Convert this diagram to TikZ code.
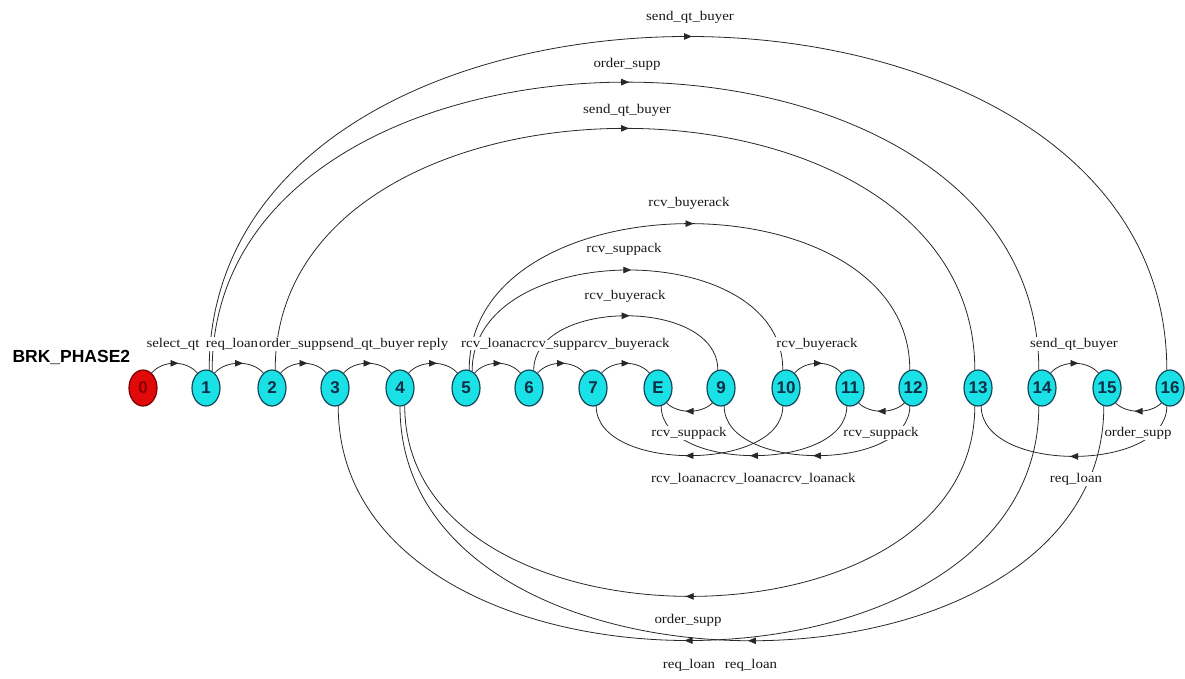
\documentclass[tikz,border=0pt]{standalone}
\usepackage{fontspec}
\setmainfont{Liberation Serif}
\newfontfamily\labfont[FakeStretch=1.12]{Liberation Serif}
\newfontfamily\headfont{Liberation Sans}
\usetikzlibrary{shapes.geometric,arrows.meta,decorations.markings,backgrounds}

\definecolor{statefill}{RGB}{25,225,230}
\definecolor{stateline}{RGB}{20,70,90}
\definecolor{statetext}{RGB}{15,45,70}
\definecolor{initfill}{RGB}{225,10,10}
\definecolor{initline}{RGB}{120,0,0}
\definecolor{inittext}{RGB}{140,0,0}
\definecolor{edgecol}{RGB}{40,40,40}

\tikzset{
  stnode/.style={ellipse, draw=stateline, line width=1.2pt, fill=statefill,
    minimum width=28pt, minimum height=36pt, inner sep=0pt, text=statetext,
    font=\headfont\bfseries\fontsize{17}{17}\selectfont},
  initnode/.style={stnode, fill=initfill, draw=initline, text=inittext},
  conn/.style={color=edgecol, line width=0.8pt, postaction={decorate},
    decoration={markings, mark=at position 0.5 with
      {\arrow[xshift=4pt]{Triangle[length=8pt,width=6.5pt]}}}},
  lab/.style={fill=white, inner sep=1pt, anchor=base, text=black!90,
    font=\labfont\fontsize{13.3}{14}\selectfont},
  chain/.style={lab, anchor=base west, inner xsep=0pt},
}

\begin{document}
\begin{tikzpicture}[x=1pt,y=-1pt]
\path[use as bounding box] (0,0) rectangle (1185,678);

% states
\node[initnode] (n0)  at (143,388)  {0};
\node[stnode]   (n1)  at (206,388)  {1};
\node[stnode]   (n2)  at (272,388)  {2};
\node[stnode]   (n3)  at (335,388)  {3};
\node[stnode]   (n4)  at (400,388)  {4};
\node[stnode]   (n5)  at (466,388)  {5};
\node[stnode]   (n6)  at (529,388)  {6};
\node[stnode]   (n7)  at (593,388)  {7};
\node[stnode]   (nE)  at (658,388)  {E};
\node[stnode]   (n9)  at (721,388)  {9};
\node[stnode]   (n10) at (786,388)  {10};
\node[stnode]   (n11) at (850,388)  {11};
\node[stnode]   (n12) at (913,388)  {12};
\node[stnode]   (n13) at (978,388)  {13};
\node[stnode]   (n14) at (1042,388) {14};
\node[stnode]   (n15) at (1107,388) {15};
\node[stnode]   (n16) at (1170,388) {16};

\begin{pgfonlayer}{background}
% forward steps along the row
\foreach \a/\b in {n0/n1,n1/n2,n2/n3,n3/n4,n4/n5,n5/n6,n6/n7,n7/nE,n10/n11,n14/n15}
  \draw[conn] (\a.60) .. controls +(11,-13) and +(-11,-13) .. (\b.120);
% backward steps along the row
\foreach \a/\b in {n9/nE,n12/n11,n16/n15}
  \draw[conn] (\a.240) .. controls +(-11,11) and +(11,11) .. (\b.300);

% long forward transitions over the row
\draw[conn] (n1.80) .. controls +(0,-444.5) and +(0,-444.5) .. (n16.100);
\draw[conn] (n1.70) .. controls +(0,-384.5) and +(0,-384.5) .. (n14.100);
\draw[conn] (n2.80) .. controls +(0,-322) and +(0,-322) .. (n13.100);
\draw[conn] (n5.80) .. controls +(0,-195) and +(0,-195) .. (n12.100);
\draw[conn] (n5.70) .. controls +(0,-134) and +(0,-134) .. (n10.100);
\draw[conn] (n6.75) .. controls +(0,-72.5) and +(0,-72.5) .. (n9.100);

% long backward transitions under the row
\draw[conn] (n10.260) .. controls +(0,66) and +(0,66) .. (n7.280);
\draw[conn] (n11.260) .. controls +(0,66) and +(0,66) .. (nE.280);
\draw[conn] (n12.260) .. controls +(0,66) and +(0,66) .. (n9.280);
\draw[conn] (n16.260) .. controls +(0,67) and +(0,67) .. (n13.280);
\draw[conn] (n13.260) .. controls +(0,254) and +(0,254) .. (n4.285);
\draw[conn] (n14.260) .. controls +(0,312.5) and +(0,312.5) .. (n3.280);
\draw[conn] (n15.260) .. controls +(0,312.5) and +(0,312.5) .. (n4.270);
\end{pgfonlayer}

% title
\node[anchor=base west, font=\headfont\bfseries\fontsize{17.5}{17.5}\selectfont]
  (title) at (9,362) {BRK\_PHASE2};

% labels of the row transitions
\node[lab] (t1) at (173,347) {select\_qt};
\node[lab] (t2) at (232,347) {req\_loan};
\node[chain] (t3) at (259,347) {order\_supp};
\node[chain] (t4) at (t3.base east) {send\_qt\_buyer};
\node[lab] (t5) at (433,347) {reply};
\node[chain] (t6) at (461,347) {rcv\_loanac};
\node[chain] (t7) at (t6.base east) {rcv\_suppa};
\node[chain] (t8) at (t7.base east) {rcv\_buyerack};
\node[lab] (t9) at (817,347) {rcv\_buyerack};
\node[lab] (t10) at (1074,347) {send\_qt\_buyer};

% labels of the arcs above
\node[lab] (u1) at (690,20)  {send\_qt\_buyer};
\node[lab] (u2) at (627,67)  {order\_supp};
\node[lab] (u3) at (627,113) {send\_qt\_buyer};
\node[lab] (u4) at (689,206) {rcv\_buyerack};
\node[lab] (u5) at (624,252) {rcv\_suppack};
\node[lab] (u6) at (625,299) {rcv\_buyerack};

% labels of the arcs below
\node[lab] (d1) at (689,436)  {rcv\_suppack};
\node[lab] (d2) at (881,436)  {rcv\_suppack};
\node[lab] (d3) at (1138,436) {order\_supp};
\node[chain] (d4) at (651,482) {rcv\_loanac};
\node[chain] (d5) at (d4.base east) {rcv\_loanac};
\node[chain] (d6) at (d5.base east) {rcv\_loanack};
\node[lab] (d7) at (1076,482) {req\_loan};
\node[lab] (d8) at (688,623) {order\_supp};
\node[lab] (d9) at (689,668) {req\_loan};
\node[lab] (d10) at (751,668) {req\_loan};
\end{tikzpicture}
\end{document}
